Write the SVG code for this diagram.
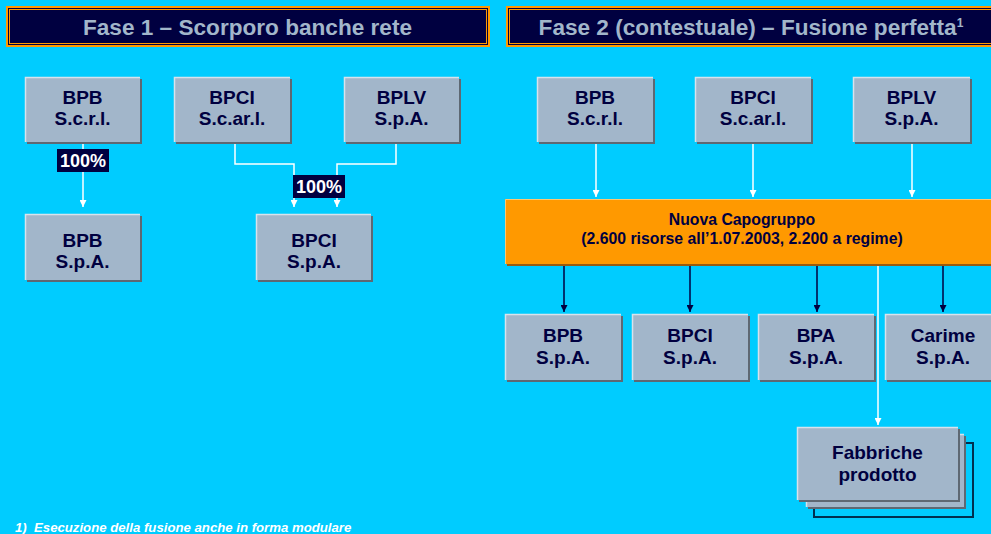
<svg xmlns="http://www.w3.org/2000/svg" width="991" height="534" viewBox="0 0 991 534">
<defs>
<style>
.bg{fill:#00CCFF}
.hd-o{fill:#FF9900}
.hd-d{fill:#000040}
.hd-l{fill:none;stroke:#FF9900;stroke-width:1}
.hd-t{font-family:"Liberation Sans",Arial,sans-serif;font-weight:bold;font-size:22.6px;fill:#A2B6CA;text-anchor:middle}
.sh{fill:#5E6873}
.bx{fill:#A2B6CA}
.hl{fill:none;stroke:#D8E2EC;stroke-width:1.5}
.bt{font-family:"Liberation Sans",Arial,sans-serif;font-weight:bold;font-size:19px;fill:#000040;text-anchor:middle}
.og{fill:#FF9900}
.ogsh{fill:#9A5C10}
.oghl{fill:none;stroke:#FFC870;stroke-width:1}
.ot{font-family:"Liberation Sans",Arial,sans-serif;font-weight:bold;font-size:15.8px;fill:#000040;text-anchor:middle}
.wl{fill:none;stroke:#FFFFFF;stroke-width:1.5}
.nl{fill:none;stroke:#000040;stroke-width:1.5}
.lb{fill:#000040}
.lt{font-family:"Liberation Sans",Arial,sans-serif;font-weight:bold;font-size:18px;fill:#FFFFFF;text-anchor:middle}
.ft{font-family:"Liberation Sans",Arial,sans-serif;font-weight:bold;font-style:italic;font-size:13.2px;fill:#FFFFFF}
</style>
<marker id="aw" markerWidth="8" markerHeight="7" refX="7" refY="3.5" orient="auto" markerUnits="userSpaceOnUse">
<path d="M0,0 L7,3.5 L0,7 Z" fill="#FFFFFF"/>
</marker>
<marker id="an" markerWidth="8" markerHeight="7" refX="7" refY="3.5" orient="auto" markerUnits="userSpaceOnUse">
<path d="M0,0 L7,3.5 L0,7 Z" fill="#000040"/>
</marker>
</defs>
<rect class="bg" x="0" y="0" width="991" height="534"/>

<g id="header1">
<rect class="hd-o" x="6" y="6" width="484" height="41"/>
<rect class="hd-d" x="8" y="8" width="480" height="37"/>
<rect class="hd-l" x="9.5" y="9.5" width="477" height="34"/>
<text class="hd-t" x="247.5" y="35">Fase 1 – Scorporo banche rete</text>
</g>
<g id="header2">
<rect class="hd-o" x="506" y="6" width="492" height="41"/>
<rect class="hd-d" x="508" y="8" width="488" height="37"/>
<rect class="hd-l" x="509.5" y="9.5" width="485" height="34"/>
<text class="hd-t" x="751" y="35">Fase 2 (contestuale) – Fusione perfetta<tspan font-size="12" dy="-8">1</tspan></text>
</g>

<g id="connectors">
<path class="wl" d="M83,143 V207" marker-end="url(#aw)"/>
<path class="wl" d="M235,143 V164 H294 V207" marker-end="url(#aw)"/>
<path class="wl" d="M396,143 V164 H337 V207" marker-end="url(#aw)"/>
<path class="wl" d="M596,143 V197" marker-end="url(#aw)"/>
<path class="wl" d="M753,143 V197" marker-end="url(#aw)"/>
<path class="wl" d="M912,143 V197" marker-end="url(#aw)"/>
<path class="nl" d="M564,266 V312" marker-end="url(#an)"/>
<path class="nl" d="M690,266 V312" marker-end="url(#an)"/>
<path class="nl" d="M817,266 V312" marker-end="url(#an)"/>
<path class="nl" d="M943,266 V312" marker-end="url(#an)"/>
<path class="wl" d="M878,266 V425" marker-end="url(#aw)"/>
<g id="label1">
<rect class="lb" x="57" y="149" width="52" height="23"/>
<text class="lt" x="83" y="167">100%</text>
</g>
<g id="label2">
<rect class="lb" x="293" y="175" width="52" height="23"/>
<text class="lt" x="319" y="193">100%</text>
</g>
</g>

<g id="p1_bpb_scrl">
<rect class="sh" x="27" y="79" width="115" height="65"/>
<rect class="bx" x="25" y="77" width="115" height="65"/>
<path class="hl" d="M25.5,142 V77.5 H140"/>
<text class="bt" x="82.5" y="103.5">BPB</text>
<text class="bt" x="82.5" y="125">S.c.r.l.</text>
</g>
<g id="p1_bpci_scarl">
<rect class="sh" x="176" y="79" width="116" height="65"/>
<rect class="bx" x="174" y="77" width="116" height="65"/>
<path class="hl" d="M174.5,142 V77.5 H290"/>
<text class="bt" x="232" y="103.5">BPCI</text>
<text class="bt" x="232" y="125">S.c.ar.l.</text>
</g>
<g id="p1_bplv_spa">
<rect class="sh" x="346" y="79" width="115" height="65"/>
<rect class="bx" x="344" y="77" width="115" height="65"/>
<path class="hl" d="M344.5,142 V77.5 H459"/>
<text class="bt" x="401.5" y="103.5">BPLV</text>
<text class="bt" x="401.5" y="125">S.p.A.</text>
</g>
<g id="p1_bpb_spa">
<rect class="sh" x="27" y="216" width="115" height="66"/>
<rect class="bx" x="25" y="214" width="115" height="66"/>
<path class="hl" d="M25.5,280 V214.5 H140"/>
<text class="bt" x="82.5" y="246.7">BPB</text>
<text class="bt" x="82.5" y="268">S.p.A.</text>
</g>
<g id="p1_bpci_spa">
<rect class="sh" x="258" y="216" width="115" height="66"/>
<rect class="bx" x="256" y="214" width="115" height="66"/>
<path class="hl" d="M256.5,280 V214.5 H371"/>
<text class="bt" x="314" y="246.7">BPCI</text>
<text class="bt" x="314" y="268">S.p.A.</text>
</g>

<g id="p2_bpb_scrl">
<rect class="sh" x="539" y="79" width="116" height="65"/>
<rect class="bx" x="537" y="77" width="116" height="65"/>
<path class="hl" d="M537.5,142 V77.5 H653"/>
<text class="bt" x="595" y="103.5">BPB</text>
<text class="bt" x="595" y="125">S.c.r.l.</text>
</g>
<g id="p2_bpci_scarl">
<rect class="sh" x="697" y="79" width="116" height="65"/>
<rect class="bx" x="695" y="77" width="116" height="65"/>
<path class="hl" d="M695.5,142 V77.5 H811"/>
<text class="bt" x="753" y="103.5">BPCI</text>
<text class="bt" x="753" y="125">S.c.ar.l.</text>
</g>
<g id="p2_bplv_spa">
<rect class="sh" x="855" y="79" width="117" height="65"/>
<rect class="bx" x="853" y="77" width="117" height="65"/>
<path class="hl" d="M853.5,142 V77.5 H970"/>
<text class="bt" x="911.5" y="103.5">BPLV</text>
<text class="bt" x="911.5" y="125">S.p.A.</text>
</g>

<g id="nuova_capogruppo">
<rect class="ogsh" x="507" y="201" width="490" height="65"/>
<rect class="og" x="505" y="199" width="490" height="65"/>
<path class="oghl" d="M505.5,264 V199.5 H995"/>
<text class="ot" x="742" y="225">Nuova Capogruppo</text>
<text class="ot" x="742" y="244">(2.600 risorse all’1.07.2003, 2.200 a regime)</text>
</g>

<g id="p2_bpb_spa">
<rect class="sh" x="507" y="316" width="116" height="66"/>
<rect class="bx" x="505" y="314" width="116" height="66"/>
<path class="hl" d="M505.5,380 V314.5 H621"/>
<text class="bt" x="563" y="341.7">BPB</text>
<text class="bt" x="563" y="363.5">S.p.A.</text>
</g>
<g id="p2_bpci_spa">
<rect class="sh" x="634" y="316" width="116" height="66"/>
<rect class="bx" x="632" y="314" width="116" height="66"/>
<path class="hl" d="M632.5,380 V314.5 H748"/>
<text class="bt" x="690" y="341.7">BPCI</text>
<text class="bt" x="690" y="363.5">S.p.A.</text>
</g>
<g id="p2_bpa_spa">
<rect class="sh" x="760" y="316" width="116" height="66"/>
<rect class="bx" x="758" y="314" width="116" height="66"/>
<path class="hl" d="M758.5,380 V314.5 H874"/>
<text class="bt" x="816" y="341.7">BPA</text>
<text class="bt" x="816" y="363.5">S.p.A.</text>
</g>
<g id="p2_carime_spa">
<rect class="sh" x="887" y="316" width="116" height="66"/>
<rect class="bx" x="885" y="314" width="116" height="66"/>
<path class="hl" d="M885.5,380 V314.5 H1001"/>
<text class="bt" x="943" y="341.7">Carime</text>
<text class="bt" x="943" y="363.5">S.p.A.</text>
</g>

<g id="fabbriche_prodotto">
<rect x="814" y="443" width="159" height="74" fill="none" stroke="#003050" stroke-width="2"/>
<rect class="sh" x="808" y="436" width="158" height="73"/>
<rect class="bx" x="806" y="434" width="158" height="73"/>
<path class="hl" d="M806.5,507 V434.5 H964"/>
<rect class="sh" x="799" y="429" width="161" height="73"/>
<rect class="bx" x="797" y="427" width="161" height="73"/>
<path class="hl" d="M797.5,500 V427.5 H958"/>
<text class="bt" x="877.5" y="459.3">Fabbriche</text>
<text class="bt" x="877.5" y="481">prodotto</text>
</g>

<g id="footnote">
<text class="ft" x="15" y="532">1)</text>
<text class="ft" x="34" y="532">Esecuzione della fusione anche in forma modulare</text>
</g>
</svg>
